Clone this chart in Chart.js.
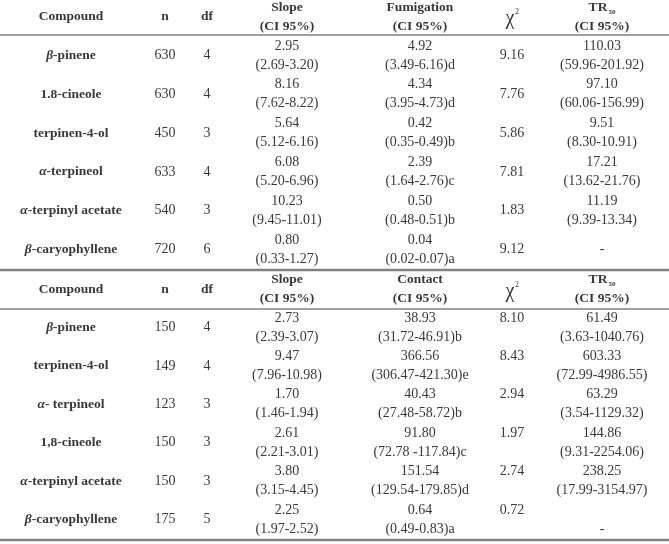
<!DOCTYPE html>
<html>
<head>
<meta charset="utf-8">
<script src="https://cdn.jsdelivr.net/npm/chart.js@4.4.1/dist/chart.umd.min.js"></script>
<style>
  html, body { margin: 0; padding: 0; background: #fff; }
  #wrap { width: 669px; height: 544px; position: relative; }
</style>
</head>
<body>
<div id="wrap"><canvas id="chart"></canvas></div>
<script>
// fumigation table
const fumCompounds = ['β-pinene', '1.8-cineole', 'terpinen-4-ol', 'α-terpineol', 'α-terpinyl acetate', 'β-caryophyllene'];
const fumN = [630, 630, 450, 633, 540, 720];
const fumDf = [4, 4, 3, 4, 3, 6];
const fumSlope = ['2.95', '8.16', '5.64', '6.08', '10.23', '0.80'];
const fumSlopeCI = ['(2.69-3.20)', '(7.62-8.22)', '(5.12-6.16)', '(5.20-6.96)', '(9.45-11.01)', '(0.33-1.27)'];
const fumValue = ['4.92', '4.34', '0.42', '2.39', '0.50', '0.04'];
const fumValueCI = ['(3.49-6.16)d', '(3.95-4.73)d', '(0.35-0.49)b', '(1.64-2.76)c', '(0.48-0.51)b', '(0.02-0.07)a'];
const fumChi = ['9.16', '7.76', '5.86', '7.81', '1.83', '9.12'];
const fumTR = ['110.03', '97.10', '9.51', '17.21', '11.19', '-'];
const fumTRCI = ['(59.96-201.92)', '(60.06-156.99)', '(8.30-10.91)', '(13.62-21.76)', '(9.39-13.34)', ''];

// contact table
const conCompounds = ['β-pinene', 'terpinen-4-ol', 'α- terpineol', '1,8-cineole', 'α-terpinyl acetate', 'β-caryophyllene'];
const conN = [150, 149, 123, 150, 150, 175];
const conDf = [4, 4, 3, 3, 3, 5];
const conSlope = ['2.73', '9.47', '1.70', '2.61', '3.80', '2.25'];
const conSlopeCI = ['(2.39-3.07)', '(7.96-10.98)', '(1.46-1.94)', '(2.21-3.01)', '(3.15-4.45)', '(1.97-2.52)'];
const conValue = ['38.93', '366.56', '40.43', '91.80', '151.54', '0.64'];
const conValueCI = ['(31.72-46.91)b', '(306.47-421.30)e', '(27.48-58.72)b', '(72.78 -117.84)c', '(129.54-179.85)d', '(0.49-0.83)a'];
const conChi = ['8.10', '8.43', '2.94', '1.97', '2.74', '0.72'];
const conTR = ['61.49', '603.33', '63.29', '144.86', '238.25', ''];
const conTRCI = ['(3.63-1040.76)', '(72.99-4986.55)', '(3.54-1129.32)', '(9.31-2254.06)', '(17.99-3154.97)', '-'];

// layout (pixels in scale units)
const colX = [71, 165, 207, 287, 420, 512, 602];
const FONT = '"Liberation Serif", "Times New Roman", serif';
const TEXT = '#383838';
const RULE = '#808080';
const NUM = 14;

const tables = [
  { valueHead: 'Fumigation', head1: 8, head2: 27, headMid: 17, row0: 46, rowStep: 38.8, lineGap: 19, chiCenter: true,
    compounds: fumCompounds, n: fumN, df: fumDf, slope: fumSlope, slopeCI: fumSlopeCI,
    value: fumValue, valueCI: fumValueCI, chi: fumChi, tr: fumTR, trCI: fumTRCI },
  { valueHead: 'Contact', head1: 280, head2: 299, headMid: 290, row0: 318, rowStep: 38.4, lineGap: 19, chiCenter: false,
    compounds: conCompounds, n: conN, df: conDf, slope: conSlope, slopeCI: conSlopeCI,
    value: conValue, valueCI: conValueCI, chi: conChi, tr: conTR, trCI: conTRCI }
];
const rules = [{ y: 35, w: 1.5 }, { y: 270, w: 2.5 }, { y: 309, w: 1.5 }, { y: 540, w: 2.5 }];

function txt(ctx, s, x, y, weight, size) {
  ctx.font = weight + ' ' + size + 'px ' + FONT;
  ctx.textAlign = 'center';
  ctx.fillText(s, x, y);
}

function compoundText(ctx, s, x, y) {
  const greek = /^[α-ω]/.test(s);
  const head = greek ? s[0] : '';
  const rest = greek ? s.slice(1) : s;
  ctx.textAlign = 'left';
  ctx.font = 'italic bold 13.5px ' + FONT;
  const w1 = ctx.measureText(head).width;
  ctx.font = 'bold 13.5px ' + FONT;
  const w2 = ctx.measureText(rest).width;
  const x0 = x - (w1 + w2) / 2;
  ctx.font = 'italic bold 13.5px ' + FONT;
  ctx.fillText(head, x0, y);
  ctx.font = 'bold 13.5px ' + FONT;
  ctx.fillText(rest, x0 + w1, y);
}

const tablePlugin = {
  id: 'tablePlugin',
  afterDraw(chart) {
    const ctx = chart.ctx;
    const xs = chart.scales.x, ys = chart.scales.y;
    const X = i => xs.getPixelForValue(colX[i]);
    const Y = v => ys.getPixelForValue(v);
    ctx.save();
    ctx.textBaseline = 'middle';

    rules.forEach(r => {
      ctx.strokeStyle = RULE;
      ctx.lineWidth = r.w;
      ctx.beginPath();
      ctx.moveTo(xs.getPixelForValue(0), Y(r.y));
      ctx.lineTo(xs.getPixelForValue(669), Y(r.y));
      ctx.stroke();
    });

    ctx.fillStyle = TEXT;
    tables.forEach(t => {
      // header
      txt(ctx, 'Compound', X(0), Y(t.headMid), 'bold', 13.5);
      txt(ctx, 'n', X(1), Y(t.headMid), 'bold', 13.5);
      txt(ctx, 'df', X(2), Y(t.headMid), 'bold', 13.5);
      txt(ctx, 'Slope', X(3), Y(t.head1), 'bold', 13.5);
      txt(ctx, '(CI 95%)', X(3), Y(t.head2), 'bold', 13.5);
      txt(ctx, t.valueHead, X(4), Y(t.head1), 'bold', 13.5);
      txt(ctx, '(CI 95%)', X(4), Y(t.head2), 'bold', 13.5);
      txt(ctx, 'χ', X(5) - 2, Y(t.headMid + 2), 'normal', 20);
      txt(ctx, '2', X(5) + 5, Y(t.headMid - 5), 'normal', 8);
      ctx.font = 'bold 13.5px ' + FONT;
      const wTR = ctx.measureText('TR').width;
      txt(ctx, 'TR', X(6) - 4, Y(t.head1), 'bold', 13.5);
      txt(ctx, '50', X(6) + wTR / 2 + 0.5, Y(t.head1 + 4), 'bold', 7);
      txt(ctx, '(CI 95%)', X(6), Y(t.head2), 'bold', 13.5);

      // rows
      t.compounds.forEach((c, i) => {
        const l1 = t.row0 + i * t.rowStep;
        const l2 = l1 + t.lineGap;
        const mid = (l1 + l2) / 2;
        compoundText(ctx, c, X(0), Y(mid));
        txt(ctx, String(t.n[i]), X(1), Y(mid), 'normal', NUM);
        txt(ctx, String(t.df[i]), X(2), Y(mid), 'normal', NUM);
        txt(ctx, t.slope[i], X(3), Y(l1), 'normal', NUM);
        txt(ctx, t.slopeCI[i], X(3), Y(l2), 'normal', NUM);
        txt(ctx, t.value[i], X(4), Y(l1), 'normal', NUM);
        txt(ctx, t.valueCI[i], X(4), Y(l2), 'normal', NUM);
        txt(ctx, t.chi[i], X(5), Y(t.chiCenter ? mid : l1), 'normal', NUM);
        if (t.trCI[i] === '') {
          txt(ctx, t.tr[i], X(6), Y(mid), 'normal', NUM);
        } else {
          txt(ctx, t.tr[i], X(6), Y(l1), 'normal', NUM);
          txt(ctx, t.trCI[i], X(6), Y(l2), 'normal', NUM);
        }
      });
    });
    ctx.restore();
  }
};

new Chart(document.getElementById('chart'), {
  type: 'scatter',
  data: { datasets: [{ data: [], pointRadius: 0 }] },
  options: {
    responsive: true,
    maintainAspectRatio: false,
    animation: false,
    layout: { padding: 0 },
    plugins: { legend: { display: false }, tooltip: { enabled: false } },
    scales: {
      x: { type: 'linear', min: 0, max: 669, display: false },
      y: { type: 'linear', min: 0, max: 544, reverse: true, display: false }
    }
  },
  plugins: [tablePlugin]
});
</script>
</body>
</html>
